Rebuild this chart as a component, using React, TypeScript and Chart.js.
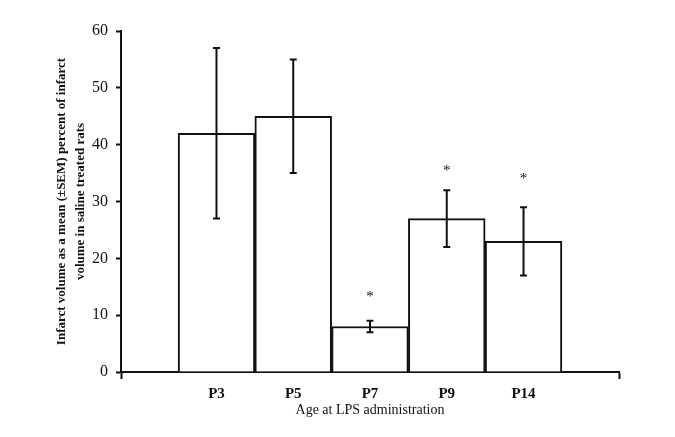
import React, { useEffect, useRef } from "react";
import { Chart, registerables } from "chart.js";

Chart.register(...registerables);

const categories = ["P3", "P5", "P7", "P9", "P14"];
const positions = [1, 2, 3, 4, 5];
const means = [42, 45, 8, 27, 23];
const sem = [15, 10, 1, 5, 6];
const asteriskLevels: (number | null)[] = [null, null, 13.5, 35.7, 34.3];
const yTicks = { min: 0, max: 60, step: 10 };
const xRange = { min: -0.244, max: 6.244 };
const yTitle = [
  "Infarct volume as a mean (\u00B1SEM) percent of infarct",
  "volume in saline treated rats",
];
const xTitle = "Age at LPS administration";

const SERIF = "'Liberation Serif', 'Times New Roman', serif";

const errorBarPlugin = {
  id: "errorBars",
  afterDatasetsDraw(chart: any) {
    const { ctx } = chart;
    const xs = chart.scales.x;
    const ys = chart.scales.y;
    ctx.save();
    ctx.strokeStyle = "#111";
    ctx.lineWidth = 2;
    for (let i = 0; i < means.length; i++) {
      const x = xs.getPixelForValue(positions[i]);
      const yT = ys.getPixelForValue(means[i] + sem[i]);
      const yB = ys.getPixelForValue(means[i] - sem[i]);
      ctx.beginPath();
      ctx.moveTo(x, yT);
      ctx.lineTo(x, yB);
      ctx.moveTo(x - 3.5, yT);
      ctx.lineTo(x + 3.5, yT);
      ctx.moveTo(x - 3.5, yB);
      ctx.lineTo(x + 3.5, yB);
      ctx.stroke();
    }
    ctx.fillStyle = "#111";
    ctx.font = `15px ${SERIF}`;
    ctx.textAlign = "center";
    ctx.textBaseline = "middle";
    for (let i = 0; i < asteriskLevels.length; i++) {
      const lv = asteriskLevels[i];
      if (lv == null) continue;
      const x = xs.getPixelForValue(positions[i]);
      const y = ys.getPixelForValue(lv);
      ctx.fillText("*", x, y + 2);
    }
    ctx.restore();
  },
};

export default function App() {
  const ref = useRef<HTMLCanvasElement | null>(null);
  useEffect(() => {
    if (!ref.current) return;
    const chart = new Chart(ref.current, {
      type: "bar",
      data: {
        datasets: [
          {
            data: positions.map((p, i) => ({ x: p, y: means[i] })),
            backgroundColor: "#ffffff",
            borderColor: "#111",
            borderWidth: 2,
            barPercentage: 1,
            categoryPercentage: 1,
          } as any,
        ],
      },
      options: {
        responsive: false,
        animation: false,
        layout: { padding: { top: 31, right: 56, left: 0, bottom: 0 } },
        plugins: { legend: { display: false }, tooltip: { enabled: false } },
        scales: {
          x: {
            type: "linear",
            min: xRange.min,
            max: xRange.max,
            offset: false,
            afterBuildTicks: (scale: any) => {
              scale.ticks = [xRange.min, ...positions, xRange.max].map((v) => ({ value: v }));
            },
            afterFit: (scale: any) => {
              scale.height = 65;
            },
            grid: {
              offset: false,
              drawOnChartArea: false,
              drawTicks: true,
              tickLength: 7,
              tickWidth: 2,
              tickColor: (c: any) =>
                c.index === 0 || c.index === positions.length + 1 ? "#111" : "rgba(0,0,0,0)",
            },
            border: { display: true, color: "#111", width: 2 },
            ticks: {
              autoSkip: false,
              maxRotation: 0,
              padding: 6,
              color: "#111",
              font: { family: SERIF, size: 15, weight: "bold" },
              callback: (v: any) => {
                const idx = positions.indexOf(Number(v));
                return idx >= 0 ? categories[idx] : "";
              },
            },
            title: {
              display: true,
              text: xTitle,
              color: "#111",
              font: { family: SERIF, size: 14, weight: "normal" },
              padding: { top: 0, bottom: 18 },
            },
          },
          y: {
            min: yTicks.min,
            max: yTicks.max,
            afterFit: (scale: any) => {
              scale.width = 121;
            },
            grid: {
              drawOnChartArea: false,
              drawTicks: true,
              tickLength: 5,
              tickWidth: 2,
              tickColor: "#111",
            },
            border: { display: true, color: "#111", width: 2 },
            ticks: {
              stepSize: yTicks.step,
              padding: 8,
              color: "#111",
              font: { family: SERIF, size: 16 },
            },
            title: {
              display: true,
              text: yTitle,
              color: "#111",
              font: { family: SERIF, size: 13, weight: "bold", lineHeight: 1.4 },
              padding: { top: 53, bottom: 0 },
            },
          },
        },
      } as any,
      plugins: [errorBarPlugin],
    });
    return () => chart.destroy();
  }, []);
  return (
    <div style={{ position: "absolute", left: 0, top: 0, width: 675, height: 437, background: "#fff" }}>
      <canvas ref={ref} width={675} height={437} />
    </div>
  );
}
